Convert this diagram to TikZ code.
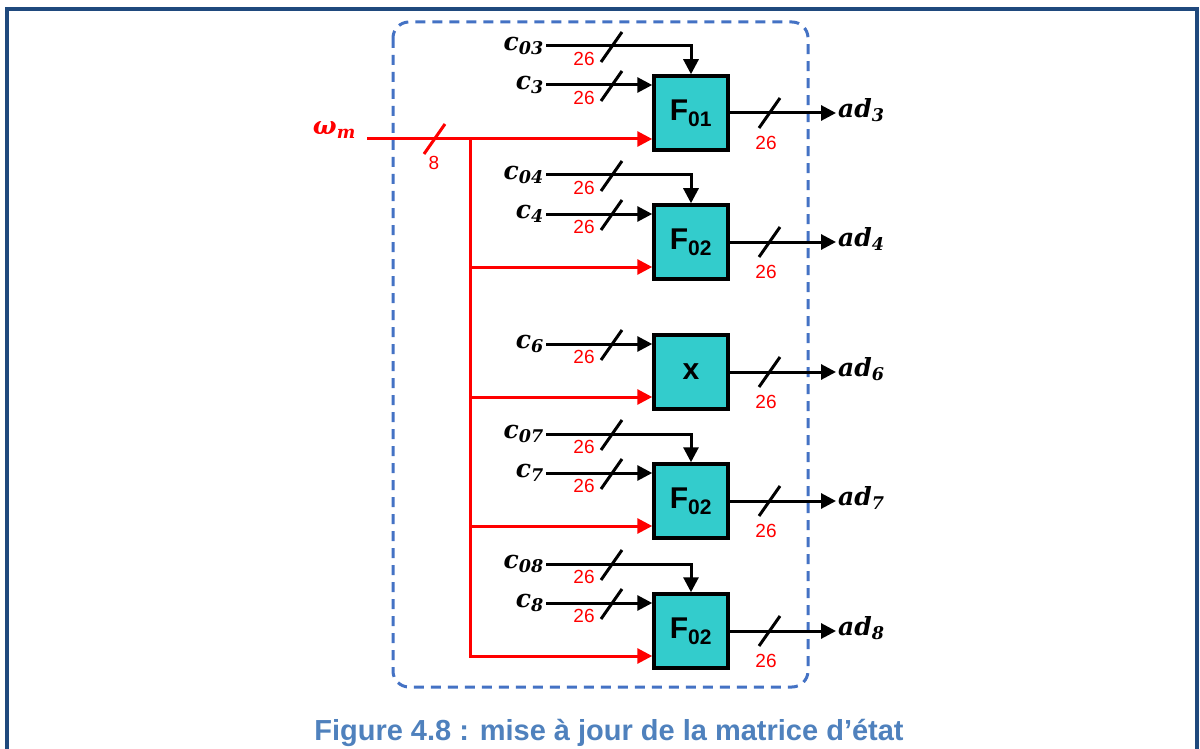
\documentclass[tikz,border=0pt]{standalone}
\usepackage{fontspec}
\setmainfont{Liberation Serif}
\setsansfont{Liberation Sans}
\newfontfamily\sigfont{DejaVu Serif}
\usetikzlibrary{arrows.meta,positioning,calc}
\definecolor{frameBlue}{RGB}{31,73,125}
\definecolor{dashBlue}{RGB}{68,114,196}
\definecolor{boxTeal}{RGB}{51,204,204}
\definecolor{capBlue}{RGB}{79,129,189}
\definecolor{busRed}{RGB}{255,0,0}

\begin{document}
\begin{tikzpicture}[x=1pt,y=-1pt,
  fblock/.style={rectangle, draw=black, fill=boxTeal, line width=3.5pt,
                 minimum width=74pt, minimum height=74pt, inner sep=0pt,
                 font=\sffamily\bfseries\fontsize{30}{30}\selectfont},
  sig/.style={font=\sigfont\bfseries\itshape\fontsize{25}{25}\selectfont, inner sep=2pt},
  arr/.style={-{Triangle[length=15pt,width=15pt]}, line width=3pt, black},
  redarr/.style={arr, busRed},
  nbits/.style={font=\sffamily\fontsize{19}{19}\selectfont, text=busRed, inner sep=0pt},
  pics/slash/.style={code={\draw[line width=3pt] (-11,15) -- (10,-15);}}
]
  \useasboundingbox (0,0) rectangle (1200,749);

  % page frame and dashed block
  \draw[frameBlue, line width=4pt] (7,749) -- (7,9) -- (1197,9) -- (1197,749);
  \draw[dashBlue, line width=3pt, dash pattern=on 10pt off 7pt,
        rounded corners=16pt] (393,22) rectangle (808,687);

  % function blocks
  \node[fblock] (F1) at (691,113) {F\textsubscript{01}};
  \node[fblock] (F2) at (691,242) {F\textsubscript{02}};
  \node[fblock] (F3) at (691,372) {x};
  \node[fblock] (F4) at (691,501) {F\textsubscript{02}};
  \node[fblock] (F5) at (691,631) {F\textsubscript{02}};

  % top inputs c0n
  \foreach \b/\y/\n in {F1/113/3, F2/242/4, F4/501/7, F5/631/8}{
    \node[sig, anchor=east] (c0\n) at (546,\y-67) {c\textsubscript{0\n}};
    \draw[arr] (c0\n.east) -| (\b.north);
    \pic at (612,\y-66) {slash};
    \node[nbits] at (584,\y-54) {26};
  }

  % side inputs cn
  \foreach \b/\y/\n in {F1/113/3, F2/242/4, F3/372/6, F4/501/7, F5/631/8}{
    \node[sig, anchor=east] (c\n) at (546,\y-28) {c\textsubscript{\n}};
    \draw[arr] (c\n.east) -- (\b.west |- c\n.east);
    \pic at (612,\y-27) {slash};
    \node[nbits] at (584,\y-15) {26};
  }

  % outputs adn
  \foreach \b/\y/\n in {F1/113/3, F2/242/4, F3/372/6, F4/501/7, F5/631/8}{
    \node[sig, anchor=west] (ad\n) at (836,\y-3) {ad\textsubscript{\n}};
    \draw[arr] (\b.east) -- (\b.east -| ad\n.west);
    \pic at (770,\y) {slash};
    \node[nbits] at (766,\y+30) {26};
  }

  % omega bus
  \node[sig, text=busRed, anchor=east] (wm) at (358,130) {ω\textsubscript{m}};
  \coordinate (win) at (367,139);
  \coordinate (bus) at (470,139);
  \draw[redarr] (win) -- ($(F1.west)+(0,26)$);
  \foreach \b in {F2,F3,F4,F5}
    \draw[redarr] (bus) |- ($(\b.west)+(0,25)$);
  \pic[busRed] at (435,139) {slash};
  \node[nbits] at (434,163) {8};

  % caption
  \node[font=\sffamily\bfseries\fontsize{29}{29}\selectfont, text=capBlue]
    (cap) at (609,733) {Figure 4.8 : mise à jour de la matrice d’état};
\end{tikzpicture}
\end{document}
